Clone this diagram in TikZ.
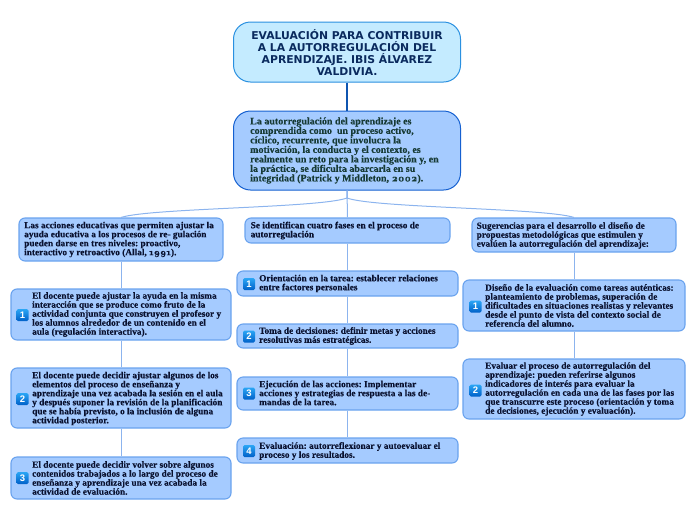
\documentclass[tikz,border=0pt]{standalone}
\usepackage{fontspec}
\setmainfont{Liberation Serif}[BoldFeatures={FakeBold=0.25}]
\newfontfamily\titlefont{DejaVu Sans}
\newfontfamily\iconfont{Liberation Sans}
\newfontfamily\oldnum[Numbers=OldStyle,BoldFeatures={FakeBold=0.4}]{Latin Modern Roman}
\definecolor{boxfill}{HTML}{A5CBFF}
\definecolor{boxline}{HTML}{6AA3EE}
\definecolor{mainline}{HTML}{1560D0}
\definecolor{titlefill}{HTML}{C4EBFF}
\definecolor{titleline}{HTML}{2A90E0}
\definecolor{link}{HTML}{8CB4EE}
\definecolor{darklink}{HTML}{0F55B0}
\definecolor{titletext}{HTML}{0A2A5E}
\definecolor{maintext}{HTML}{173A35}
\definecolor{bodytext}{HTML}{0A1230}
\definecolor{2A}{HTML}{2BA6F5}
\definecolor{2B}{HTML}{0060C8}
\tikzset{
  x=1pt,y=-1pt,
  topbox/.style={draw=titleline,fill=titlefill,line width=1pt,rounded corners=17pt,inner sep=0pt},
  mainbox/.style={draw=mainline,fill=boxfill,line width=1pt,rounded corners=17pt,inner sep=0pt},
  subbox/.style={draw=boxline,fill=boxfill,line width=1.1pt,rounded corners=6pt,inner sep=0pt},
  body/.style={anchor=west,align=left,inner sep=0pt,text=bodytext,font=\fontsize{9.3}{9}\selectfont\bfseries\frenchspacing},
  maintxt/.style={body,text=maintext,font=\fontsize{10}{9.5}\selectfont\bfseries\frenchspacing},
  toptxt/.style={align=center,inner sep=0pt,text=titletext,font=\fontsize{10.8}{12}\titlefont\bfseries},
  badge/.style={rounded corners=1.5pt,top color=2A,bottom color=2B,minimum width=12pt,minimum height=12pt,inner sep=0pt,text=white,font=\fontsize{9.5}{9.5}\iconfont\bfseries},
  lnk/.style={draw=link,line width=1pt},
}
\begin{document}
\begin{tikzpicture}
\useasboundingbox (0,0) rectangle (696,520);
% boxes
\node[topbox,minimum width=227pt,minimum height=60pt] (title) at (347,52) {};
\node[mainbox,minimum width=227pt,minimum height=79pt] (main) at (347,150.5) {};
\node[subbox,minimum width=204pt,minimum height=43pt] (l0) at (121,239.5) {};
\node[subbox,minimum width=220pt,minimum height=51pt] (l1) at (121,314.5) {};
\node[subbox,minimum width=220pt,minimum height=60pt] (l2) at (121,398) {};
\node[subbox,minimum width=220pt,minimum height=42pt] (l3) at (121,478) {};
\node[subbox,minimum width=205pt,minimum height=25pt] (m0) at (347.5,230.5) {};
\node[subbox,minimum width=221pt,minimum height=25pt] (m1) at (347.5,283.5) {};
\node[subbox,minimum width=221pt,minimum height=24pt] (m2) at (347.5,336) {};
\node[subbox,minimum width=221pt,minimum height=33pt] (m3) at (347.5,393.5) {};
\node[subbox,minimum width=221pt,minimum height=25pt] (m4) at (347.5,450.5) {};
\node[subbox,minimum width=204pt,minimum height=34pt] (r0) at (574,235) {};
\node[subbox,minimum width=222pt,minimum height=51pt] (r1) at (574,305.5) {};
\node[subbox,minimum width=222pt,minimum height=60pt] (r2) at (574,389) {};
% connectors
\draw[darklink,line width=1.3pt] (title.south) -- (main.north);
\coordinate (fork) at (347,198);
\draw[lnk] (main.south) -- (m0.north);
\draw[lnk] (main.south) -- (fork) .. controls (320,208) and (150,208) .. (l0.north);
\draw[lnk] (main.south) -- (fork) .. controls (374,208) and (545,208) .. (r0.north);
\draw[lnk] (l0.south) -- (l1.north);
\draw[lnk] (l1.south) -- (l2.north);
\draw[lnk] (l2.south) -- (l3.north);
\draw[lnk] (m0.south) -- (m1.north);
\draw[lnk] (m1.south) -- (m2.north);
\draw[lnk] (m2.south) -- (m3.north);
\draw[lnk] (m3.south) -- (m4.north);
\draw[lnk] (r0.south) -- (r1.north);
\draw[lnk] (r1.south) -- (r2.north);
% text
\node[toptxt] (titlet) at (347,52) {EVALUACIÓN PARA CONTRIBUIR\\A LA AUTORREGULACIÓN DEL\\APRENDIZAJE. IBIS ÁLVAREZ\\VALDIVIA.};
\node[maintxt] (maint) at (250,150.5) {La autorregulación del aprendizaje es\\comprendida como\ \ un proceso activo,\\cíclico, recurrente, que involucra la\\motivación, la conducta y el contexto, es\\realmente un reto para la investigación y, en\\la práctica, se dificulta abarcarla en su\\integridad (Patrick y Middleton, {\oldnum 2002}).};
\node[body] (l0t) at (24,239.5) {Las acciones educativas que permiten ajustar la\\ayuda educativa a los procesos de re- gulación\\pueden darse en tres niveles: proactivo,\\interactivo y retroactivo (Allal, {\oldnum 1991}).};
\node[body] (l1t) at (32,314.5) {El docente puede ajustar la ayuda en la misma\\interacción que se produce como fruto de la\\actividad conjunta que construyen el profesor y\\los alumnos alrededor de un contenido en el\\aula (regulación interactiva).};
\node[body] (l2t) at (32,398.5) {El docente puede decidir ajustar algunos de los\\elementos del proceso de enseñanza y\\aprendizaje una vez acabada la sesión en el aula\\y después suponer la revisión de la planificación\\que se había previsto, o la inclusión de alguna\\actividad posterior.};
\node[body] (l3t) at (32,478) {El docente puede decidir volver sobre algunos\\contenidos trabajados a lo largo del proceso de\\enseñanza y aprendizaje una vez acabada la\\actividad de evaluación.};
\node[body] (m0t) at (250.5,230.5) {Se identifican cuatro fases en el proceso de\\autorregulación};
\node[body] (m1t) at (259,283.5) {Orientación en la tarea: establecer relaciones\\entre factores personales};
\node[body] (m2t) at (259,336) {Toma de decisiones: definir metas y acciones\\resolutivas más estratégicas.};
\node[body] (m3t) at (259,393) {Ejecución de las acciones: Implementar\\acciones y estrategias de respuesta a las de-\\mandas de la tarea.};
\node[body] (m4t) at (259,451) {Evaluación: autorreflexionar y autoevaluar el\\proceso y los resultados.};
\node[body] (r0t) at (476.5,235.5) {Sugerencias para el desarrollo el diseño de\\propuestas metodológicas que estimulen y\\evalúen la autorregulación del aprendizaje:};
\node[body] (r1t) at (485,305.5) {Diseño de la evaluación como tareas auténticas:\\planteamiento de problemas, superación de\\dificultades en situaciones realistas y relevantes\\desde el punto de vista del contexto social de\\referencia del alumno.};
\node[body] (r2t) at (485,389) {Evaluar el proceso de autorregulación del\\aprendizaje: pueden referirse algunos\\indicadores de interés para evaluar la\\autorregulación en cada una de las fases por las\\que transcurre este proceso (orientación y toma\\de decisiones, ejecución y evaluación).};
% badges
\node[badge] (bl1) at (22.5,315) {1};
\node[badge] (bl2) at (22.5,399) {2};
\node[badge] (bl3) at (22.5,478) {3};
\node[badge] (bm1) at (249,284) {1};
\node[badge] (bm2) at (249,336.5) {2};
\node[badge] (bm3) at (249,393.5) {3};
\node[badge] (bm4) at (249,451) {4};
\node[badge] (br1) at (475.5,306.5) {1};
\node[badge] (br2) at (475.5,390.5) {2};
\end{tikzpicture}
\end{document}
